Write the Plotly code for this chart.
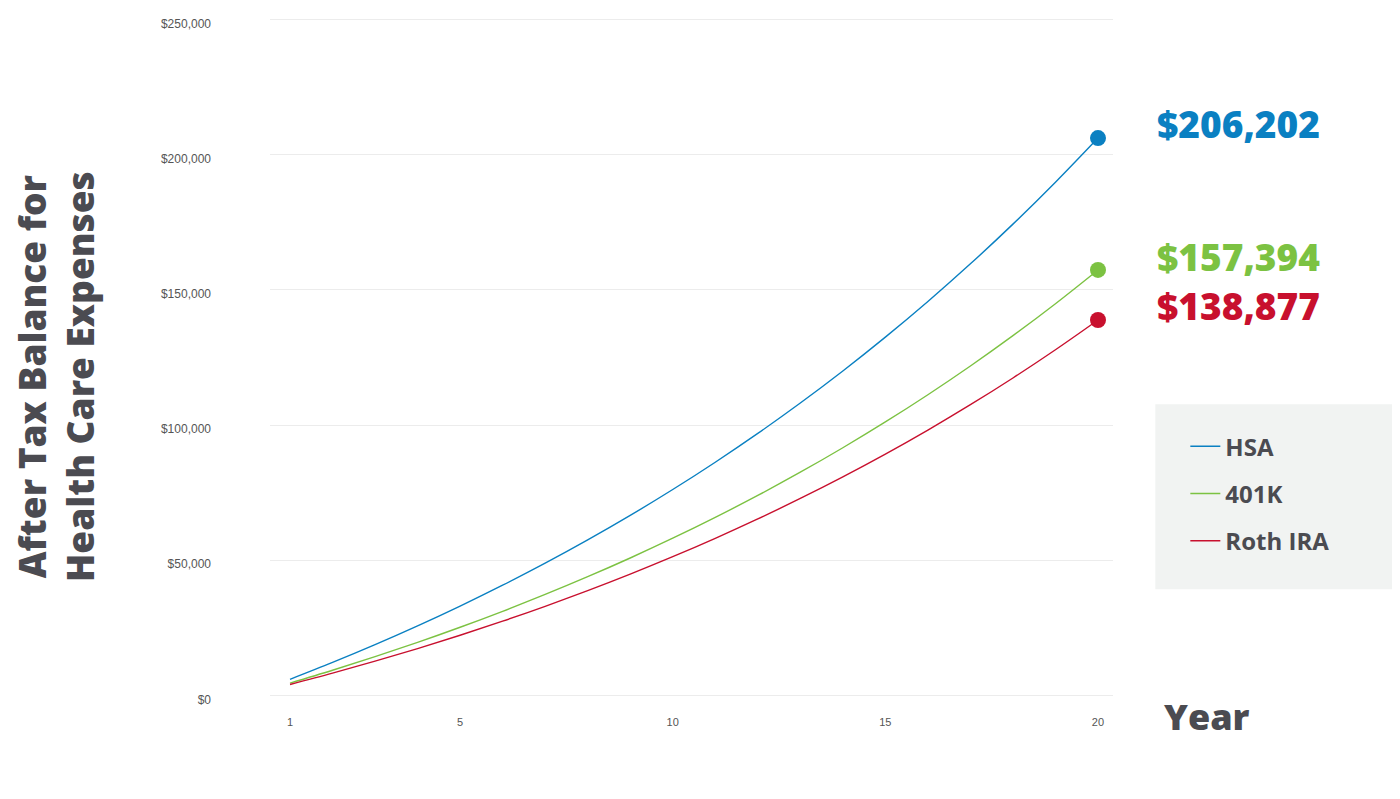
import plotly.graph_objects as go

years = list(range(1, 21))
hsa = [5914, 12153, 18736, 25679, 33006, 40736, 48891, 57496, 66568, 76143,
       86250, 96907, 108149, 120013, 132527, 145727, 159654, 174351, 189858, 206202]
k401 = [4514, 9276, 14300, 19600, 25193, 31092, 37317, 43885, 50810, 58118,
        65832, 73966, 82548, 91603, 101154, 111230, 121860, 133077, 144913, 157394]
roth = [3983, 8185, 12618, 17294, 22229, 27435, 32927, 38723, 44833, 51281,
        58088, 65265, 72837, 80827, 89255, 98145, 107525, 117423, 127866, 138877]

series_names = ["HSA", "401K", "Roth IRA"]
series_colors = ["#0a80c2", "#7cc242", "#c8102e"]
final_labels = ["$206,202", "$157,394", "$138,877"]

x_ticks = [1, 5, 10, 15, 20]
y_ticks = [0, 50000, 100000, 150000, 200000, 250000]
y_ticktext = ["$0", "$50,000", "$100,000", "$150,000", "$200,000", "$250,000"]

TEXT_GRAY = "#4b4b51"
BOLD = "Open Sans"

fig = go.Figure()
for name, vals, col in zip(series_names, [hsa, k401, roth], series_colors):
    fig.add_trace(go.Scatter(
        x=years, y=vals, mode="lines", name=name,
        line=dict(color=col, width=1.4, shape="spline"),
        legendgroup=name, hoverinfo="skip"))
for name, vals, col in zip(series_names, [hsa, k401, roth], series_colors):
    fig.add_trace(go.Scatter(
        x=[years[-1]], y=[vals[-1]], mode="markers", showlegend=False,
        marker=dict(color=col, size=16), legendgroup=name, hoverinfo="skip"))

# page has an 8px body margin; geometry below is in page pixels
OFF = 8
W, H = 1400 - OFF, 775
plot_left, plot_right = 270, 1112.7
plot_top, plot_bottom = 17.0, 697.7
L = plot_left - OFF
R = W - (plot_right - OFF)
T = plot_top - OFF
B = H - (plot_bottom - OFF)
PW = plot_right - plot_left
PH = plot_bottom - plot_top

def px_x(px):
    return (px - plot_left) / PW

def px_y(py):
    return (plot_bottom - py) / PH

annotations = []
for lab, col, cy in zip(final_labels, series_colors, [123, 256.5, 305]):
    annotations.append(dict(
        xref="paper", yref="paper", x=px_x(1155), y=px_y(cy),
        xanchor="left", yanchor="middle", showarrow=False, text=lab,
        font=dict(family=BOLD, size=37, color=col, weight=800)))

annotations.append(dict(
    xref="paper", yref="paper", x=px_x(1207), y=px_y(716),
    xanchor="center", yanchor="middle", showarrow=False, text="Year",
    font=dict(family=BOLD, size=36, color=TEXT_GRAY, weight=800)))

annotations.append(dict(
    xref="paper", yref="paper", x=px_x(55), y=px_y(376),
    xanchor="center", yanchor="middle", showarrow=False, textangle=-90,
    text="After Tax Balance for<br>Health Care Expenses",
    font=dict(family=BOLD, size=37, color=TEXT_GRAY, weight=800)))

shapes = [dict(
    type="rect", xref="paper", yref="paper", layer="below",
    x0=px_x(1155), x1=px_x(1400), y0=px_y(589), y1=px_y(404),
    fillcolor="#f1f3f2", line=dict(width=0))]

fig.update_layout(
    width=W, height=H,
    margin=dict(l=L, r=R, t=T, b=B),
    paper_bgcolor="white", plot_bgcolor="white",
    showlegend=True,
    legend=dict(
        x=px_x(1185), y=px_y(424), xanchor="left", yanchor="top",
        bgcolor="rgba(0,0,0,0)", tracegroupgap=13,
        font=dict(family=BOLD, size=24, color=TEXT_GRAY, weight="bold"),
        itemwidth=30),
    xaxis=dict(
        range=[0.5295, 20.353], tickvals=x_ticks, ticks="",
        showgrid=False, zeroline=False, showline=False,
        ticklabelstandoff=16,
        tickfont=dict(family="Arial, Liberation Sans", size=11, color="#555555")),
    yaxis=dict(
        range=[-1000, 251000], tickvals=y_ticks, ticktext=y_ticktext, ticks="",
        showgrid=True, gridcolor="#ececec", gridwidth=1,
        zeroline=True, zerolinecolor="#ececec", zerolinewidth=1,
        showline=False, ticklabelstandoff=58, ticklabelshift=4,
        tickfont=dict(family="Arial, Liberation Sans", size=12, color="#555555")),
    annotations=annotations,
    shapes=shapes,
)

fig.write_html("out.html")
